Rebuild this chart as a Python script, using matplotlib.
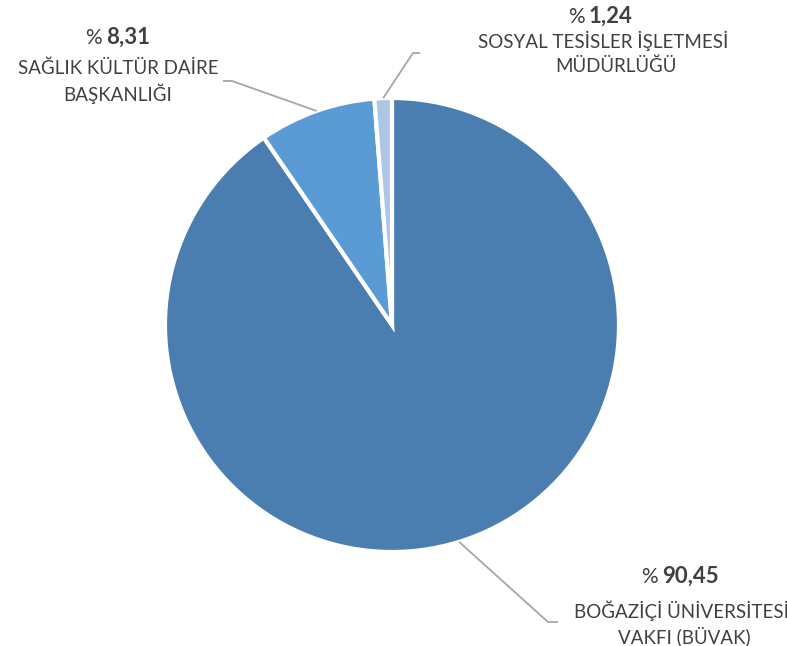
import matplotlib
matplotlib.use('Agg')
import matplotlib.pyplot as plt
import numpy as np

plt.rcParams['font.family'] = ['Lato', 'DejaVu Sans']

values = [90.45, 8.31, 1.24]
value_labels = ["90,45", "8,31", "1,24"]
names = [["BOĞAZİÇİ ÜNİVERSİTESİ", "VAKFI (BÜVAK)"],
         ["SAĞLIK KÜLTÜR DAİRE", "BAŞKANLIĞI"],
         ["SOSYAL TESİSLER İŞLETMESİ", "MÜDÜRLÜĞÜ"]]
colors = ["#4A7EB0", "#5B9BD5", "#ADC6E6"]

W, H = 787, 646
CX, CY, R = 392, 325, 227
TXT = "#404040"
LINE = "#A6A6A6"


def d(px, py):
    # pixel (from top-left) -> data coords of the pie axes
    return (px - CX) / R, (CY - py) / R


fig = plt.figure(figsize=(W / 100, H / 100), dpi=100)
ax = fig.add_axes([(CX - R) / W, (H - CY - R) / H, 2 * R / W, 2 * R / H])
wedges, _ = ax.pie(values, colors=colors, startangle=90, counterclock=False,
                   wedgeprops=dict(edgecolor="white", linewidth=3))
ax.set_xlim(-1, 1)
ax.set_ylim(-1, 1)
ax.set_aspect('equal')
ax.axis('off')

# leader lines: elbow and end points (pixels)
leaders = [((548, 622), (558, 622)),
           ((232, 81), (223, 81)),
           ((413, 53), (420, 53))]
for w, (elb, end) in zip(wedges, leaders):
    mid = np.deg2rad((w.theta1 + w.theta2) / 2)
    x0, y0 = np.cos(mid), np.sin(mid)
    ex, ey = d(*elb)
    nx, ny = d(*end)
    ax.plot([x0, ex, nx], [y0, ey, ny], color=LINE, lw=1.3, clip_on=False,
            solid_capstyle='butt')

# label layout: percent split x, baselines, line centres (pixels)
layout = [
    dict(split=660, base=[583, 618, 643], cx=[681, 684]),
    dict(split=104, base=[44, 74, 101], cx=[118, 118]),
    dict(split=587, base=[23, 48, 72], cx=[603, 616]),
]
fs = 13.5
for val, nm, lay in zip(value_labels, names, layout):
    x, y = d(lay['split'] - 2, lay['base'][0])
    ax.text(x, y, "%", ha='right', va='baseline', fontsize=15, color=TXT,
            clip_on=False)
    x, y = d(lay['split'] + 2, lay['base'][0])
    ax.text(x, y, val, ha='left', va='baseline', fontsize=16,
            fontweight='bold', color=TXT, clip_on=False)
    for line, b, c in zip(nm, lay['base'][1:], lay['cx']):
        x, y = d(c, b)
        ax.text(x, y, line, ha='center', va='baseline', fontsize=fs,
                color=TXT, clip_on=False)

fig.savefig("out.png", dpi=100, facecolor="white")
